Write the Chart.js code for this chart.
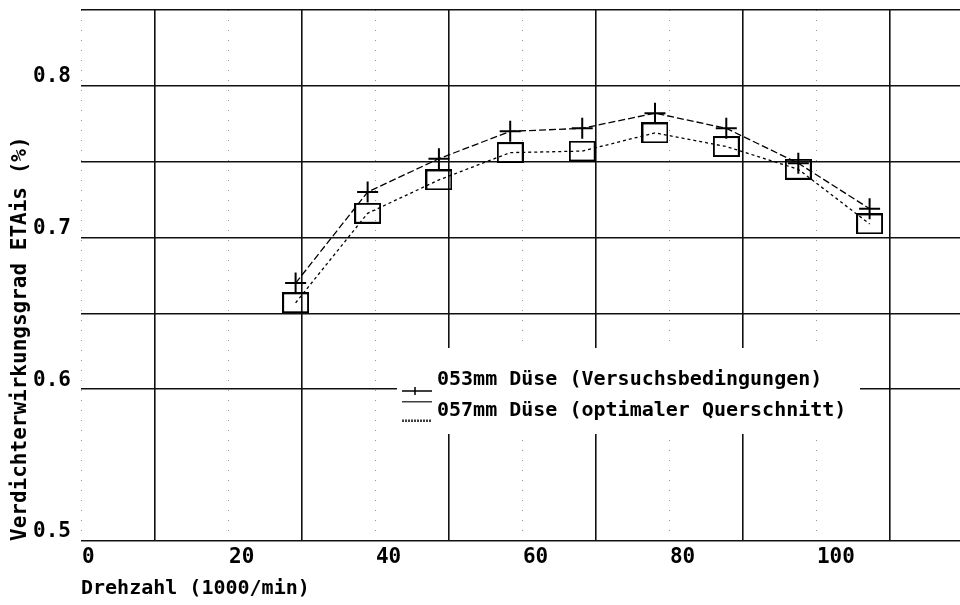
<!DOCTYPE html>
<html>
<head>
<meta charset="utf-8">
<script src="https://cdn.jsdelivr.net/npm/chart.js@4/dist/chart.umd.min.js"></script>
<style>
  html, body { margin: 0; padding: 0; background: #fff; }
  canvas { display: block; }
</style>
</head>
<body>
<canvas id="etaChart" width="960" height="605"></canvas>
<script>
// Drehzahl (1000/min)
const drehzahl = [29.2, 39.0, 48.7, 58.4, 68.2, 78.1, 87.8, 97.6, 107.3];
// Verdichterwirkungsgrad ETAis
const eta053 = [0.670, 0.730, 0.752, 0.770, 0.772, 0.782, 0.772, 0.749, 0.719];
const eta057 = [0.657, 0.716, 0.738, 0.756, 0.757, 0.769, 0.760, 0.745, 0.709];

const seriesNames = ['053mm Düse (Versuchsbedingungen)', '057mm Düse (optimaler Querschnitt)'];

// ticks
const xTicks = [0, 10, 20, 30, 40, 50, 60, 70, 80, 90, 100, 110];
const xTickLabels = ['0', '', '20', '', '40', '', '60', '', '80', '', '100', ''];
const xDotted = [0, 20, 40, 60, 80, 100];
const yTicks = [0.5, 0.55, 0.6, 0.65, 0.7, 0.75, 0.8, 0.85];
const yTickLabels = ['0.5', '', '0.6', '', '0.7', '', '0.8', ''];

const FONT = '"DejaVu Sans Mono", "Liberation Mono", monospace';

// square marker (wider than tall, like the plotter)
const boxMark = document.createElement('canvas');
boxMark.width = 27; boxMark.height = 21;
(() => {
  const g = boxMark.getContext('2d');
  g.strokeStyle = '#000'; g.lineWidth = 2;
  g.strokeRect(1, 1, 25, 19);
})();

// legend symbols
const legLine = document.createElement('canvas');
legLine.width = 30; legLine.height = 32;
(() => {
  const g = legLine.getContext('2d');
  g.strokeStyle = '#000'; g.lineWidth = 1.5;
  g.beginPath();
  g.moveTo(0, 27); g.lineTo(30, 27);
  g.moveTo(13, 23); g.lineTo(13, 31);
  g.stroke();
})();
const legBox = document.createElement('canvas');
legBox.width = 30; legBox.height = 21;
(() => {
  const g = legBox.getContext('2d');
  g.strokeStyle = '#000'; g.lineWidth = 1.5;
  g.beginPath();
  g.moveTo(0, 1); g.lineTo(30, 1);
  g.stroke();
  g.setLineDash([2, 1]);
  g.beginPath();
  g.moveTo(0, 20); g.lineTo(30, 20);
  g.stroke();
})();

// dotted grid at 0, 20, 40 ... and legend placed inside the plot
const plotterBits = {
  id: 'plotterBits',
  beforeDraw(chart) {
    const {ctx, chartArea, scales} = chart;
    ctx.save();
    ctx.strokeStyle = '#999';
    ctx.lineWidth = 1;
    ctx.setLineDash([1, 9]);
    xDotted.forEach(v => {
      const px = Math.round(scales.x.getPixelForValue(v)) + 0.5;
      ctx.beginPath();
      ctx.moveTo(px, chartArea.top);
      ctx.lineTo(px, chartArea.bottom);
      ctx.stroke();
    });
    ctx.restore();

    const lg = chart.legend;
    if (lg && !lg._whiteBg) {
      const orig = lg.draw;
      lg.draw = function (area) {
        const c = chart.ctx;
        c.save();
        c.fillStyle = '#fff';
        c.fillRect(397, 348, 463, 86);
        c.restore();
        orig.call(this, area);
      };
      lg._whiteBg = true;
    }
  },
  afterLayout(chart) {
    const lg = chart.legend;
    if (!lg) return;
    lg.left = 396;
    lg.top = 359;
    lg.right = 860;
    lg.bottom = 520;
  }
};

const noPad = s => {
  s.paddingLeft = 0; s.paddingRight = 0;
  s.paddingTop = 0; s.paddingBottom = 0;
};

const ctx = document.getElementById('etaChart').getContext('2d');

new Chart(ctx, {
  type: 'scatter',
  data: {
    datasets: [{
      label: seriesNames[0],
      data: drehzahl.map((x, i) => ({x: x, y: eta053[i]})),
      showLine: true,
      borderColor: '#000',
      borderWidth: 1.3,
      borderDash: [7, 3],
      pointStyle: 'cross',
      pointRadius: 10.5,
      pointBorderWidth: 2,
      pointBorderColor: '#000',
      pointBackgroundColor: '#000'
    }, {
      label: seriesNames[1],
      data: drehzahl.map((x, i) => ({x: x, y: eta057[i]})),
      showLine: true,
      borderColor: '#000',
      borderWidth: 1.3,
      borderDash: [3, 3],
      pointStyle: boxMark,
      pointRadius: 10,
      pointBorderColor: '#000',
      pointBackgroundColor: 'rgba(0,0,0,0)'
    }]
  },
  options: {
    responsive: false,
    animation: false,
    layout: { autoPadding: false, padding: { top: 10, left: 0, right: 0, bottom: 0 } },
    plugins: {
      tooltip: { enabled: false },
      legend: {
        position: 'chartArea',
        fullSize: false,
        align: 'start',
        labels: {
          usePointStyle: true,
          pointStyleWidth: 20,
          padding: 11,
          color: '#000',
          font: { family: FONT, size: 20, weight: 'bold' },
          generateLabels(chart) {
            const items = Chart.defaults.plugins.legend.labels.generateLabels(chart);
            items[0].pointStyle = legLine;
            items[1].pointStyle = legBox;
            return items;
          }
        }
      }
    },
    scales: {
      x: {
        type: 'linear',
        min: 0,
        max: 119.6,
        afterBuildTicks: s => { s.ticks = xTicks.map(v => ({value: v})); },
        afterFit: s => { s.height = 64; noPad(s); },
        grid: {
          drawTicks: false,
          lineWidth: 1.6,
          color: c => (c.index % 2 === 1 ? '#111' : 'rgba(0,0,0,0)')
        },
        border: { display: false },
        ticks: {
          autoSkip: false,
          maxRotation: 0,
          align: 'start',
          labelOffset: 1,
          padding: 6,
          color: '#000',
          font: { family: FONT, size: 21, weight: 'bold', lineHeight: 1 },
          callback: (v, i) => xTickLabels[i]
        },
        title: {
          display: true,
          text: 'Drehzahl (1000/min)',
          align: 'start',
          color: '#000',
          padding: { top: 0, bottom: 4 },
          font: { family: FONT, size: 20, weight: 'bold' }
        }
      },
      y: {
        type: 'linear',
        min: 0.5,
        max: 0.85,
        afterBuildTicks: s => { s.ticks = yTicks.map(v => ({value: v})); },
        afterFit: s => { s.width = 81; noPad(s); },
        grid: {
          drawTicks: false,
          lineWidth: 1.6,
          color: c => (c.index === 1 ? 'rgba(0,0,0,0)' : '#111')
        },
        border: { display: false },
        ticks: {
          autoSkip: false,
          padding: 10,
          labelOffset: -9,
          color: '#000',
          font: { family: FONT, size: 21, weight: 'bold', lineHeight: 1 },
          callback: (v, i) => yTickLabels[i]
        },
        title: {
          display: true,
          text: 'Verdichterwirkungsgrad ETAis (%)',
          align: 'start',
          color: '#000',
          padding: { top: 8, bottom: 0 },
          font: { family: FONT, size: 21, weight: 'bold' }
        }
      }
    }
  },
  plugins: [plotterBits]
});
</script>
</body>
</html>
